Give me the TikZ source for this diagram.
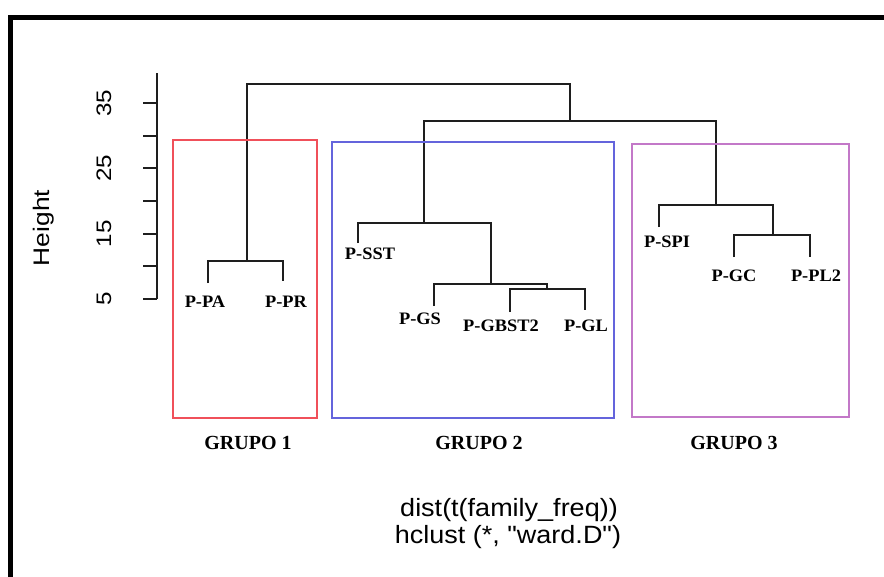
\documentclass[tikz,border=0pt]{standalone}
\usepackage{fontspec}
\setmainfont{Liberation Serif}
\newfontfamily\arialf{Liberation Sans}
\definecolor{boxred}{RGB}{240,80,90}
\definecolor{boxblue}{RGB}{100,100,220}
\definecolor{boxpurple}{RGB}{195,120,200}
\definecolor{denline}{RGB}{30,30,30}
\newcommand{\stretchtxt}[2]{\scalebox{#1}[1]{#2}}
\tikzset{
  leaf/.style={font=\bfseries\fontsize{17.5}{20}\selectfont, anchor=base, inner sep=0pt},
  grp/.style={font=\bfseries\fontsize{20}{22}\selectfont, anchor=base, inner sep=0pt},
  ticklab/.style={font=\arialf\fontsize{21}{23}\selectfont, rotate=90, anchor=base, inner sep=0pt},
  axlab/.style={font=\arialf\fontsize{22.5}{27}\selectfont, rotate=90, anchor=base, inner sep=0pt},
  titlelab/.style={font=\arialf\fontsize{25}{27}\selectfont, anchor=base, inner sep=0pt},
  den/.style={line width=2.2pt, draw=denline},
  axisline/.style={line width=2pt, draw=denline},
  grpbox/.style={line width=2pt},
  frameline/.style={line width=5pt, line join=miter}
}
\begin{document}
\begin{tikzpicture}[x=1pt,y=-1pt]
\useasboundingbox (0,0) rectangle (884,576);
\fill[white] (0,0) rectangle (884,576);

% outer frame
\coordinate (fbl) at (10.5,580);
\coordinate (ftl) at (10.5,17.5);
\coordinate (ftr) at (890,17.5);
\draw[frameline] (fbl) -- (ftl) -- (ftr);

% axis
\coordinate (axtop) at (157,73);
\coordinate (axbot) at (157,299);
\draw[axisline] (axtop) -- (axbot);
\foreach \v/\y in {35/103,30/135.7,25/168.3,20/201,15/233.7,10/266.3,5/299}{
  \coordinate (tk\v) at (157,\y);
  \coordinate (tl\v) at (143,\y);
  \draw[axisline] (tk\v) -- (tl\v);
}
\node[ticklab] (l35) at (111,103) {\stretchtxt{1.15}{35}};
\node[ticklab] (l25) at (111,168.3) {\stretchtxt{1.15}{25}};
\node[ticklab] (l15) at (111,233.7) {\stretchtxt{1.15}{15}};
\node[ticklab] (l5) at (111,299) {\stretchtxt{1.15}{5}};
\node[axlab] (ylab) at (49,228) {\stretchtxt{1.17}{Height}};

% leaf labels
\node[leaf] (PA) at (205,307) {\stretchtxt{1.05}{P-PA}};
\node[leaf] (PR) at (286,307) {\stretchtxt{1.05}{P-PR}};
\node[leaf] (SST) at (370,259) {\stretchtxt{1.05}{P-SST}};
\node[leaf] (GS) at (420,324) {\stretchtxt{1.05}{P-GS}};
\node[leaf] (GBST) at (501,331) {\stretchtxt{1.05}{P-GBST2}};
\node[leaf] (GL) at (586,331) {\stretchtxt{1.05}{P-GL}};
\node[leaf] (SPI) at (667,247) {\stretchtxt{1.05}{P-SPI}};
\node[leaf] (GC) at (734,281) {\stretchtxt{1.05}{P-GC}};
\node[leaf] (PL) at (816,281) {\stretchtxt{1.05}{P-PL2}};

% leaf leg ends
\coordinate (ePA) at (208,283);
\coordinate (ePR) at (283,281);
\coordinate (eSST) at (358,243);
\coordinate (eGS) at (434,306);
\coordinate (eGBST) at (510,312);
\coordinate (eGL) at (585,310);
\coordinate (eSPI) at (659,227);
\coordinate (eGC) at (734,257);
\coordinate (ePL) at (810,257);

% merge points
\coordinate (m1) at (247,261);
\coordinate (mGB) at (547,289);
\coordinate (mGS) at (491,284);
\coordinate (mSST) at (424,223);
\coordinate (mGC) at (773,235);
\coordinate (mSPI) at (716,205);
\coordinate (m23) at (570,121);
\coordinate (root) at (570,84);
\coordinate (rootL) at (247,84);

\draw[den] (ePA) |- (m1) -| (ePR);
\draw[den] (eGBST) |- (mGB) -| (eGL);
\draw[den] (eGS) |- (mGS) -| (mGB);
\draw[den] (eSST) |- (mSST) -| (mGS);
\draw[den] (eGC) |- (mGC) -| (ePL);
\draw[den] (eSPI) |- (mSPI) -| (mGC);
\draw[den] (mSST) |- (m23) -| (mSPI);
\draw[den] (m1) |- (rootL) -- (root) -- (m23);

% group boxes
\draw[grpbox, draw=boxred] (173,140) rectangle (317,418);
\draw[grpbox, draw=boxblue] (332,142) rectangle (614,418);
\draw[grpbox, draw=boxpurple] (632,144) rectangle (849,417);

\node[grp] (g1) at (248,449) {GRUPO 1};
\node[grp] (g2) at (479,449) {GRUPO 2};
\node[grp] (g3) at (734,449) {GRUPO 3};

% title
\node[titlelab] (t1) at (509,516) {\stretchtxt{1.08}{dist(t(family\_freq))}};
\node[titlelab] (t2) at (508,543) {\stretchtxt{1.08}{hclust (*, "ward.D")}};
\end{tikzpicture}
\end{document}
